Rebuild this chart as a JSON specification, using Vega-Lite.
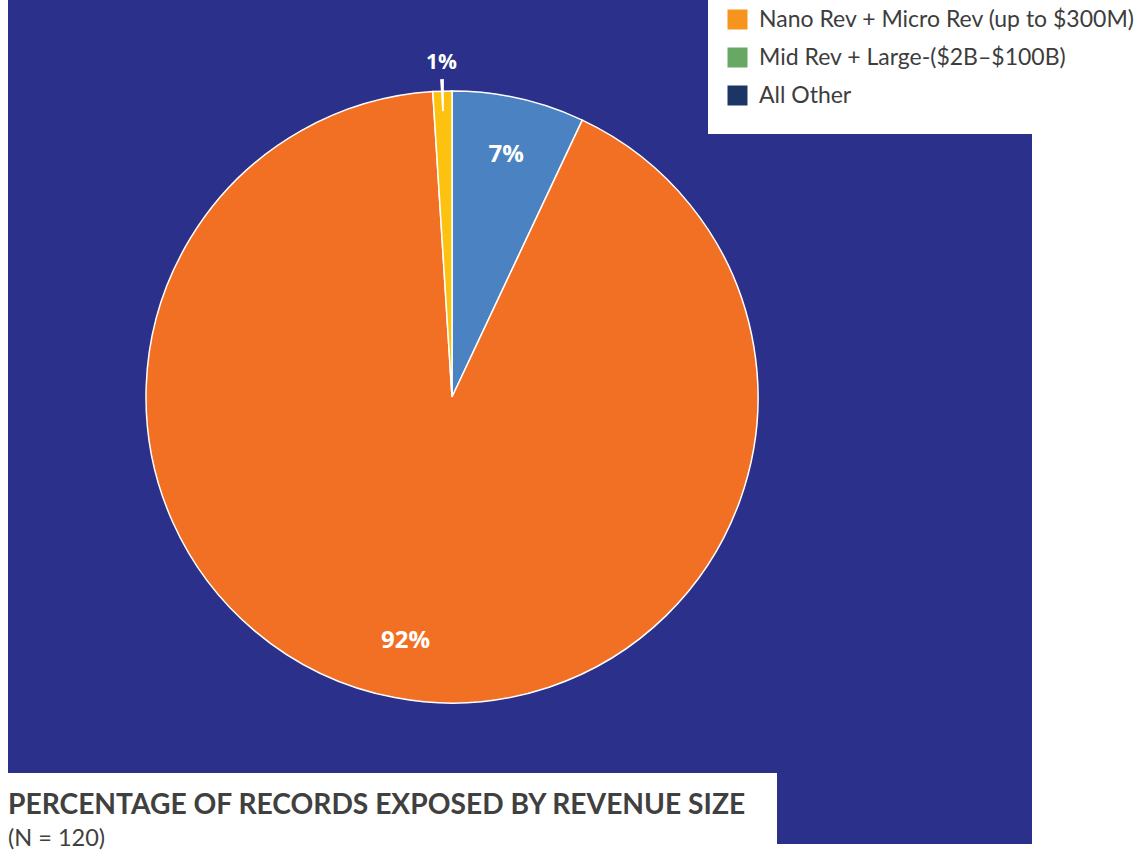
{
  "$schema": "https://vega.github.io/schema/vega-lite/v6.json",
  "padding": {"left": 8, "top": 0, "right": 0, "bottom": 0},
  "background": "white",
  "config": {"view": {"stroke": null}, "concat": {"spacing": 0}},
  "title": {
    "text": "PERCENTAGE OF RECORDS EXPOSED BY REVENUE SIZE",
    "subtitle": "(N = 120)",
    "orient": "bottom",
    "anchor": "start",
    "offset": -52,
    "font": "Lato",
    "fontSize": 28.2,
    "fontWeight": "bold",
    "color": "#404040",
    "subtitleFont": "Lato",
    "subtitleFontSize": 23.5,
    "subtitleColor": "#404040",
    "subtitlePadding": 7
  },
  "spacing": 0,
  "hconcat": [
    {
      "spacing": 0,
      "vconcat": [
        {"width": 888, "height": 21, "view": {"fill": "#2b318b", "stroke": null}, "data": {"values": []}, "mark": "point", "encoding": {}},
        {
          "width": 888,
          "height": 752,
          "view": {"fill": "#2b318b", "stroke": null},
          "data": {"values": [
            {"category": "Nano Rev + Micro Rev (up to $300M)", "pct": 7, "label": "7%"},
            {"category": "Mid Rev + Large-($2B–$100B)", "pct": 92, "label": "92%"},
            {"category": "All Other", "pct": 1, "label": "1%"}
          ]},
          "layer": [
            {
              "mark": {"type": "arc", "outerRadius": 306, "stroke": "white", "strokeWidth": 1.5},
              "encoding": {
                "theta": {"field": "pct", "type": "quantitative", "stack": true},
                "order": {"field": "category", "sort": "descending"},
                "fill": {
                  "field": "category",
                  "type": "nominal",
                  "scale": {"range": ["#fdc10f", "#f27024", "#4a82c2"]},
                  "legend": null
                }
              }
            },
            {
              "mark": {"type": "arc", "outerRadius": 0},
              "encoding": {
                "theta": {"field": "pct", "type": "quantitative", "stack": true},
                "order": {"field": "category", "sort": "descending"},
                "color": {
                  "field": "category",
                  "type": "nominal",
                  "scale": {
                    "domain": ["Nano Rev + Micro Rev (up to $300M)", "Mid Rev + Large-($2B–$100B)", "All Other"],
                    "range": ["#f7941d", "#67a864", "#1b3564"]
                  },
                  "legend": {
                    "orient": "none",
                    "legendX": 700,
                    "legendY": 0,
                    "title": " ",
                    "titleOrient": "bottom",
                    "titleFontSize": 14,
                    "titlePadding": 4,
                    "fillColor": "white",
                    "padding": 8,
                    "symbolType": "square",
                    "symbolSize": 400,
                    "symbolOffset": 10,
                    "symbolStrokeWidth": 0,
                    "symbolOpacity": 1,
                    "labelFont": "Lato",
                    "labelFontSize": 23,
                    "labelColor": "#3d3d3d",
                    "labelOffset": 10,
                    "labelLimit": 420,
                    "rowPadding": 14
                  }
                }
              }
            },
            {
              "mark": {"type": "arc", "innerRadius": 286, "outerRadius": 318, "padAngle": 0.038, "fill": "white"},
              "encoding": {
                "theta": {"field": "pct", "type": "quantitative", "stack": true},
                "order": {"field": "category", "sort": "descending"},
                "opacity": {"condition": {"test": "datum.pct < 2", "value": 1}, "value": 0}
              }
            },
            {
              "mark": {"type": "text", "font": "Open Sans", "fontWeight": "bold", "fill": "white", "fontSize": 24, "radius": 248},
              "encoding": {
                "theta": {"field": "pct", "type": "quantitative", "stack": true},
                "order": {"field": "category", "sort": "descending"},
                "text": {"field": "label"},
                "opacity": {"condition": {"test": "datum.pct < 2", "value": 0}, "value": 1}
              }
            },
            {
              "mark": {"type": "text", "font": "Open Sans", "fontWeight": "bold", "fill": "white", "fontSize": 21, "radius": 334},
              "encoding": {
                "theta": {"field": "pct", "type": "quantitative", "stack": true},
                "order": {"field": "category", "sort": "descending"},
                "text": {"field": "label"},
                "opacity": {"condition": {"test": "datum.pct < 2", "value": 1}, "value": 0}
              }
            }
          ]
        },
        {
          "spacing": 0,
          "hconcat": [
            {"width": 769, "height": 71, "data": {"values": []}, "mark": "point", "encoding": {}},
            {"width": 119, "height": 71, "view": {"fill": "#2b318b", "stroke": null}, "data": {"values": []}, "mark": "point", "encoding": {}}
          ]
        }
      ]
    },
    {"width": 136, "height": 844, "view": {"fill": "#2b318b", "stroke": null}, "data": {"values": []}, "mark": "point", "encoding": {}}
  ]
}
